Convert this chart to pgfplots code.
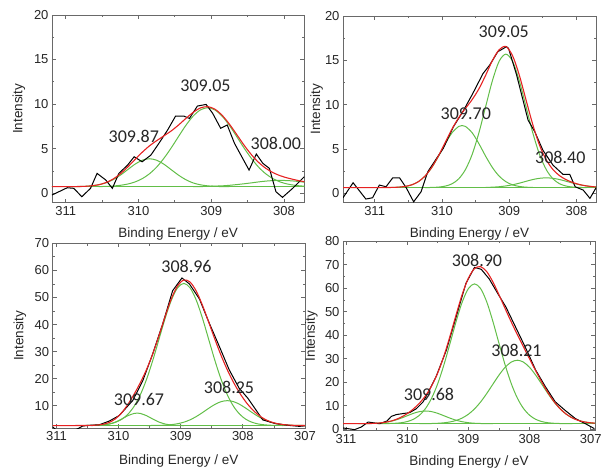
\documentclass[border=0pt]{standalone}
\usepackage{pgfplots}
\pgfplotsset{compat=1.18}
\usepackage{fontspec}
\setmainfont{Liberation Sans}
\newfontfamily\peakfont{Carlito}
\definecolor{fitred}{RGB}{230,34,34}
\definecolor{compgreen}{RGB}{98,190,72}
\definecolor{framegray}{RGB}{105,105,105}
\pgfplotsset{
  xps/.style={
    scale only axis, x dir=reverse, anchor=south west,
    axis line style={framegray, line width=0.8pt},
    every tick/.style={framegray, line width=0.8pt},
    tick align=inside, major tick length=4pt, minor tick length=2.2pt,
    minor x tick num=1, minor y tick num=1,
    tick label style={font=\fontsize{13}{15}\selectfont, text=black!85},
    /pgf/number format/assume math mode=true,
    /pgf/number format/1000 sep={},
    xlabel={Binding Energy / eV}, ylabel={Intensity},
    label style={font=\fontsize{13.5}{16}\selectfont, text=black!85},
    clip=true,
  },
  dat/.style={black, line width=1pt},
  fitl/.style={fitred, line width=1.1pt, smooth},
  comp/.style={compgreen, line width=1pt, smooth},
}
\newcommand{\pk}[3]{\node[font=\peakfont\fontsize{18}{21}\selectfont, text=black!85] at (#1pt,#2pt) {#3};}
\begin{document}
\begin{tikzpicture}
\path[use as bounding box] (0,0) rectangle (601pt,468pt);

% ---------------- top left ----------------
\begin{axis}[xps, at={(52pt,265.3pt)}, width=252.3pt, height=187.7pt,
  xmin=307.72, xmax=311.19, ymin=-1.05, ymax=20,
  xtick={308,309,310,311}, ytick={0,5,10,15,20},
  xlabel style={at={(axis description cs:0.5,-0.167)}, anchor=center},
  ylabel style={at={(axis description cs:-0.131,0.5)}, anchor=center, rotate=0}]
\addplot[comp] coordinates {(311.3,0.75)(307.6,0.75)};
\addplot[comp] coordinates {(310.55,0.75)(310.45,0.78)(310.35,0.82)(310.25,0.90)(310.15,1.04)(310.05,1.27)(309.95,1.64)(309.85,2.19)(309.75,2.95)(309.65,3.94)(309.55,5.10)(309.45,6.37)(309.35,7.61)(309.25,8.65)(309.15,9.35)(309.05,9.60)(308.95,9.35)(308.85,8.65)(308.75,7.61)(308.65,6.37)(308.55,5.10)(308.45,3.94)(308.35,2.95)(308.25,2.19)(308.15,1.64)(308.05,1.27)(307.95,1.04)(307.85,0.90)(307.75,0.82)(307.65,0.78)};
\addplot[comp] coordinates {(310.95,0.75)(310.85,0.76)(310.75,0.78)(310.65,0.84)(310.55,0.96)(310.45,1.17)(310.35,1.53)(310.25,2.04)(310.15,2.65)(310.05,3.26)(309.95,3.71)(309.85,3.88)(309.75,3.71)(309.65,3.26)(309.55,2.65)(309.45,2.04)(309.35,1.53)(309.25,1.17)(309.15,0.96)(309.05,0.84)(308.95,0.78)(308.85,0.76)(308.75,0.75)};
\addplot[comp] coordinates {(309.25,0.75)(309.15,0.76)(309.05,0.78)(308.95,0.81)(308.85,0.84)(308.75,0.90)(308.65,0.98)(308.55,1.07)(308.45,1.17)(308.35,1.28)(308.25,1.37)(308.15,1.43)(308.05,1.45)(307.95,1.43)(307.85,1.37)(307.75,1.28)(307.65,1.17)};
\addplot[dat] coordinates {(311.19,-0.19)(310.98,0.63)(310.89,0.56)(310.78,-0.38)(310.66,0.56)(310.57,2.24)(310.45,1.49)(310.36,0.56)(310.27,2.24)(310.15,3.17)(310.06,4.10)(309.95,3.54)(309.83,4.29)(309.72,5.60)(309.60,7.10)(309.49,8.67)(309.38,8.67)(309.30,8.40)(309.19,9.79)(309.07,9.97)(308.98,8.97)(308.87,7.29)(308.78,7.66)(308.68,5.60)(308.48,2.61)(308.38,4.41)(308.29,3.36)(308.20,2.80)(308.11,0.18)(308.02,-0.45)(307.88,0.56)(307.79,1.30)(307.72,1.86)};
\addplot[fitl] coordinates {(311.25,0.75)(311.15,0.75)(311.05,0.75)(310.95,0.75)(310.85,0.76)(310.75,0.78)(310.65,0.84)(310.55,0.96)(310.45,1.20)(310.35,1.60)(310.25,2.19)(310.15,2.94)(310.05,3.78)(309.95,4.60)(309.85,5.32)(309.75,5.91)(309.65,6.45)(309.55,7.00)(309.45,7.66)(309.35,8.39)(309.25,9.07)(309.15,9.57)(309.05,9.72)(308.95,9.44)(308.85,8.75)(308.75,7.76)(308.65,6.60)(308.55,5.42)(308.45,4.36)(308.35,3.48)(308.25,2.81)(308.15,2.32)(308.05,1.97)(307.95,1.72)(307.85,1.52)(307.75,1.35)(307.65,1.20)};
\end{axis}

% ---------------- top right ----------------
\begin{axis}[xps, at={(343pt,265.3pt)}, width=253pt, height=186.7pt,
  xmin=307.71, xmax=311.47, ymin=-1.05, ymax=20,
  xtick={308,309,310,311}, ytick={0,5,10,15,20},
  xlabel style={at={(axis description cs:0.5,-0.168)}, anchor=center},
  ylabel style={at={(axis description cs:-0.104,0.5)}, anchor=center, rotate=0}]
\addplot[comp] coordinates {(311.5,0.65)(307.6,0.65)};
\addplot[comp] coordinates {(310.25,0.65)(310.15,0.67)(310.05,0.71)(309.95,0.82)(309.85,1.08)(309.75,1.64)(309.65,2.69)(309.55,4.40)(309.45,6.84)(309.35,9.78)(309.25,12.70)(309.15,14.89)(309.05,15.70)(308.95,14.89)(308.85,12.70)(308.75,9.78)(308.65,6.84)(308.55,4.40)(308.45,2.69)(308.35,1.64)(308.25,1.08)(308.15,0.82)(308.05,0.71)(307.95,0.67)(307.85,0.65)};
\addplot[comp] coordinates {(310.75,0.67)(310.65,0.70)(310.55,0.78)(310.45,0.96)(310.35,1.32)(310.25,1.95)(310.15,2.92)(310.05,4.19)(309.95,5.60)(309.85,6.83)(309.75,7.55)(309.70,7.65)(309.65,7.55)(309.55,6.83)(309.45,5.60)(309.35,4.19)(309.25,2.92)(309.15,1.95)(309.05,1.32)(308.95,0.96)(308.85,0.78)(308.75,0.70)(308.65,0.67)};
\addplot[comp] coordinates {(309.35,0.67)(309.25,0.70)(309.15,0.75)(309.05,0.84)(308.95,0.97)(308.85,1.15)(308.75,1.36)(308.65,1.56)(308.55,1.70)(308.45,1.75)(308.35,1.70)(308.25,1.56)(308.15,1.36)(308.05,1.15)(307.95,0.97)(307.85,0.84)(307.75,0.75)(307.65,0.70)};
\addplot[dat] coordinates {(311.47,-0.49)(311.32,1.20)(311.13,-0.64)(311.03,-0.49)(310.93,0.94)(310.83,0.75)(310.73,1.76)(310.63,1.76)(310.53,0.63)(310.42,-0.95)(310.31,0.18)(310.21,2.44)(310.08,3.94)(309.98,5.07)(309.83,7.50)(309.69,9.20)(309.54,11.28)(309.39,13.50)(309.29,14.47)(309.17,15.97)(309.04,16.54)(309.01,16.35)(308.89,13.35)(308.72,8.27)(308.62,6.95)(308.50,4.88)(308.35,3.19)(308.20,2.14)(308.10,2.14)(308.02,0.75)(307.90,0.37)(307.80,-0.56)(307.70,0.75)};
\addplot[fitl] coordinates {(311.55,0.65)(311.45,0.65)(311.35,0.65)(311.25,0.65)(311.15,0.65)(311.05,0.65)(310.95,0.65)(310.85,0.66)(310.75,0.67)(310.65,0.70)(310.55,0.78)(310.45,0.96)(310.35,1.32)(310.25,1.96)(310.15,2.94)(310.05,4.25)(309.95,5.77)(309.85,7.26)(309.75,8.54)(309.65,9.59)(309.55,10.58)(309.45,11.79)(309.35,13.32)(309.25,14.97)(309.15,16.19)(309.05,16.56)(308.95,15.52)(308.85,13.33)(308.75,10.54)(308.65,7.77)(308.55,5.45)(308.45,3.79)(308.35,2.69)(308.25,1.99)(308.15,1.53)(308.05,1.21)(307.95,0.99)(307.85,0.84)(307.75,0.75)(307.65,0.70)};
\end{axis}

% ---------------- bottom left ----------------
\begin{axis}[xps, at={(52.7pt,40pt)}, width=252.3pt, height=184.7pt,
  xmin=307.0, xmax=311.06, ymin=1.8, ymax=70,
  xtick={307,308,309,310,311}, ytick={10,20,30,40,50,60,70},
  xlabel style={at={(axis description cs:0.5,-0.181)}, anchor=center},
  ylabel style={at={(axis description cs:-0.1296,0.5)}, anchor=center, rotate=0}]
\addplot[comp] coordinates {(311.2,2.7)(306.9,2.7)};
\addplot[comp] coordinates {(310.55,2.72)(310.45,2.75)(310.35,2.82)(310.25,2.97)(310.15,3.28)(310.05,3.90)(309.95,5.00)(309.85,6.88)(309.75,9.80)(309.65,14.06)(309.55,19.75)(309.45,26.73)(309.35,34.54)(309.25,42.33)(309.15,49.03)(309.05,53.58)(308.95,55.20)(308.85,53.58)(308.75,49.03)(308.65,42.33)(308.55,34.54)(308.45,26.73)(308.35,19.75)(308.25,14.06)(308.15,9.80)(308.05,6.88)(307.95,5.00)(307.85,3.90)(307.75,3.28)(307.65,2.97)(307.55,2.82)(307.45,2.75)(307.35,2.72)};
\addplot[comp] coordinates {(310.45,2.71)(310.35,2.76)(310.25,2.90)(310.15,3.27)(310.05,4.00)(309.95,5.11)(309.85,6.35)(309.75,7.18)(309.70,7.30)(309.65,7.18)(309.55,6.35)(309.45,5.11)(309.35,4.00)(309.25,3.27)(309.15,2.90)(309.05,2.76)(308.95,2.71)};
\addplot[comp] coordinates {(309.55,2.71)(309.45,2.73)(309.35,2.77)(309.25,2.86)(309.15,3.04)(309.05,3.38)(308.95,3.94)(308.85,4.82)(308.75,6.02)(308.65,7.49)(308.55,9.07)(308.45,10.51)(308.35,11.53)(308.25,11.90)(308.15,11.53)(308.05,10.51)(307.95,9.07)(307.85,7.49)(307.75,6.02)(307.65,4.82)(307.55,3.94)(307.45,3.38)(307.35,3.04)(307.25,2.86)(307.15,2.77)(307.05,2.73)(306.95,2.71)};
\addplot[dat] coordinates {(311.06,2.2)(311.00,1.0)(310.90,0.2)(310.75,0.6)(310.65,1.6)(310.58,2.5)(310.51,2.74)(310.31,3.00)(310.15,4.35)(309.99,6.40)(309.77,12.0)(309.61,19.3)(309.45,29.2)(309.29,40.2)(309.13,52.5)(308.98,57.2)(308.86,55.0)(308.70,49.5)(308.54,40.5)(308.38,32.0)(308.22,23.3)(308.06,16.5)(307.92,12.8)(307.79,8.5)(307.68,4.8)(307.47,3.4)(307.25,2.74)(307.09,2.4)(307.0,2.6)};
\addplot[fitl] coordinates {(311.15,2.70)(311.05,2.70)(310.95,2.70)(310.85,2.70)(310.75,2.70)(310.65,2.71)(310.55,2.72)(310.45,2.76)(310.35,2.88)(310.25,3.17)(310.15,3.85)(310.05,5.20)(309.95,7.41)(309.85,10.53)(309.75,14.28)(309.65,18.54)(309.55,23.41)(309.45,29.17)(309.35,35.91)(309.25,43.06)(309.15,49.57)(309.05,54.32)(308.95,56.45)(308.85,55.70)(308.75,52.35)(308.65,47.12)(308.55,40.91)(308.45,34.54)(308.35,28.58)(308.25,23.26)(308.15,18.63)(308.05,14.69)(307.95,11.37)(307.85,8.69)(307.75,6.60)(307.65,5.09)(307.55,4.06)(307.45,3.43)(307.35,3.06)(307.25,2.86)(307.15,2.77)(307.05,2.73)(306.95,2.71)};
\end{axis}

% ---------------- bottom right ----------------
\begin{axis}[xps, at={(343pt,37.5pt)}, width=252pt, height=189.2pt,
  xmin=306.93, xmax=311.05, ymin=-0.5, ymax=80,
  xtick={307,308,309,310,311}, ytick={0,10,20,30,40,50,60,70,80},
  xlabel style={at={(axis description cs:0.5,-0.164)}, anchor=center},
  ylabel style={at={(axis description cs:-0.1258,0.5)}, anchor=center, rotate=0}]
\addplot[comp] coordinates {(311.2,2.4)(306.8,2.4)};
\addplot[comp] coordinates {(310.5,2.41)(310.4,2.43)(310.3,2.47)(310.2,2.57)(310.1,2.81)(310.0,3.30)(309.9,4.26)(309.8,6.00)(309.7,8.89)(309.6,13.31)(309.5,19.51)(309.4,27.44)(309.3,36.59)(309.2,45.96)(309.1,54.22)(309.0,59.88)(308.9,61.90)(308.8,59.88)(308.7,54.22)(308.6,45.96)(308.5,36.59)(308.4,27.44)(308.3,19.51)(308.2,13.31)(308.1,8.89)(308.0,6.00)(307.9,4.26)(307.8,3.30)(307.7,2.81)(307.6,2.57)(307.5,2.47)(307.4,2.43)(307.3,2.41)};
\addplot[comp] coordinates {(310.8,2.41)(310.7,2.43)(310.6,2.48)(310.5,2.59)(310.4,2.82)(310.3,3.23)(310.2,3.87)(310.1,4.75)(310.0,5.78)(309.9,6.79)(309.8,7.53)(309.7,7.80)(309.6,7.53)(309.5,6.79)(309.4,5.78)(309.3,4.75)(309.2,3.87)(309.1,3.23)(309.0,2.82)(308.9,2.59)(308.8,2.48)(308.7,2.43)(308.6,2.41)};
\addplot[comp] coordinates {(309.8,2.41)(309.7,2.43)(309.6,2.48)(309.5,2.58)(309.4,2.77)(309.3,3.14)(309.2,3.78)(309.1,4.83)(309.0,6.42)(308.9,8.69)(308.8,11.65)(308.7,15.24)(308.6,19.18)(308.5,23.06)(308.4,26.38)(308.3,28.61)(308.2,29.40)(308.1,28.61)(308.0,26.38)(307.9,23.06)(307.8,19.18)(307.7,15.24)(307.6,11.65)(307.5,8.69)(307.4,6.42)(307.3,4.83)(307.2,3.78)(307.1,3.14)(307.0,2.77)(306.9,2.58)(306.8,2.48)};
\addplot[dat] coordinates {(311.05,0.58)(310.86,-0.13)(310.75,1.0)(310.64,3.1)(310.45,2.4)(310.33,3.56)(310.26,5.5)(310.18,6.27)(310.07,6.7)(309.96,7.1)(309.85,8.8)(309.74,11.7)(309.64,16.6)(309.53,22.3)(309.36,33.7)(309.20,47.9)(309.04,62.1)(308.90,68.9)(308.79,68.1)(308.66,64.0)(308.52,57.8)(308.39,52.2)(308.23,43.6)(308.06,34.4)(307.90,25.2)(307.74,18.1)(307.58,11.7)(307.42,8.1)(307.25,4.56)(307.09,2.43)(306.94,0.3)};
\addplot[fitl] coordinates {(311.1,2.40)(311.0,2.40)(310.9,2.40)(310.8,2.41)(310.7,2.43)(310.6,2.48)(310.5,2.60)(310.4,2.85)(310.3,3.30)(310.2,4.04)(310.1,5.16)(310.0,6.68)(309.9,8.65)(309.8,11.14)(309.7,14.32)(309.6,18.52)(309.5,24.08)(309.4,31.19)(309.3,39.68)(309.2,48.81)(309.1,57.48)(309.0,64.32)(308.9,68.38)(308.8,69.21)(308.7,67.09)(308.6,62.75)(308.5,57.25)(308.4,51.42)(308.3,45.72)(308.2,40.31)(308.1,35.10)(308.0,29.98)(307.9,24.92)(307.8,20.08)(307.7,15.65)(307.6,11.82)(307.5,8.76)(307.4,6.45)(307.3,4.84)(307.2,3.78)(307.1,3.14)(307.0,2.77)(306.9,2.58)};
\end{axis}

% peak labels
\pk{205.5}{382.2}{309.05}
\pk{133.8}{331.3}{309.87}
\pk{275.8}{324.5}{308.00}
\pk{503.7}{435.8}{309.05}
\pk{465.8}{354.3}{309.70}
\pk{560.3}{310.2}{308.40}
\pk{186.5}{202}{308.96}
\pk{139}{69}{309.67}
\pk{229}{80.5}{308.25}
\pk{477}{208}{308.90}
\pk{516.5}{118}{308.21}
\pk{429}{74}{309.68}
\end{tikzpicture}
\end{document}
